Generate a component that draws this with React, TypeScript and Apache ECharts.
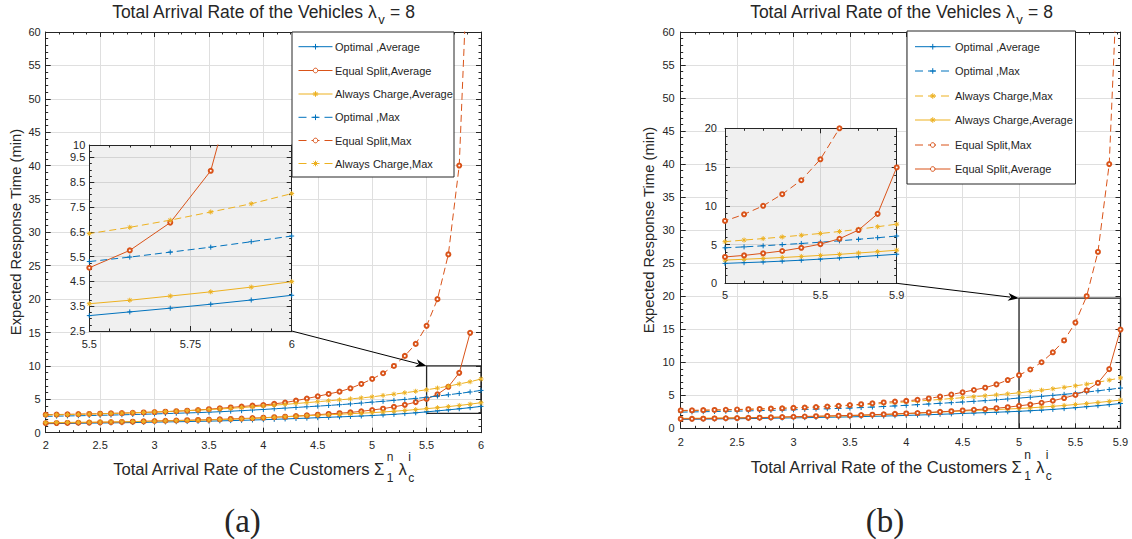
import React, { useEffect, useRef } from 'react';
import * as echarts from 'echarts';

// ---------------- data ----------------
const xValues = [2.0, 2.1, 2.2, 2.3, 2.4, 2.5, 2.6, 2.7, 2.8, 2.9, 3.0, 3.1, 3.2, 3.3, 3.4, 3.5, 3.6, 3.7, 3.8, 3.9, 4.0,
  4.1, 4.2, 4.3, 4.4, 4.5, 4.6, 4.7, 4.8, 4.9, 5.0, 5.1, 5.2, 5.3, 5.4, 5.5, 5.6, 5.7, 5.8, 5.9, 6.0];

const optimalAvg = [1.35, 1.37, 1.39, 1.41, 1.43, 1.45, 1.47, 1.49, 1.52, 1.55, 1.58, 1.61, 1.64, 1.67, 1.70, 1.73, 1.77, 1.81, 1.85, 1.90, 1.95,
  2.00, 2.06, 2.12, 2.18, 2.25, 2.31, 2.37, 2.43, 2.50, 2.57, 2.66, 2.75, 2.86, 2.98, 3.12, 3.27, 3.42, 3.58, 3.75, 3.94];
const alwaysAvg = [1.50, 1.52, 1.54, 1.56, 1.58, 1.60, 1.62, 1.64, 1.67, 1.70, 1.73, 1.76, 1.79, 1.83, 1.87, 1.91, 1.96, 2.01, 2.07, 2.13, 2.22,
  2.30, 2.38, 2.46, 2.54, 2.62, 2.69, 2.76, 2.84, 2.92, 3.00, 3.10, 3.21, 3.33, 3.46, 3.60, 3.74, 3.91, 4.08, 4.27, 4.49];
const equalAvg = [1.42, 1.44, 1.46, 1.49, 1.52, 1.55, 1.58, 1.61, 1.65, 1.70, 1.75, 1.79, 1.83, 1.87, 1.91, 1.95, 2.00, 2.06, 2.12, 2.18, 2.25,
  2.32, 2.40, 2.49, 2.59, 2.70, 2.81, 2.92, 3.04, 3.20, 3.40, 3.60, 3.87, 4.17, 4.58, 5.05, 5.75, 6.87, 8.96, 14.95, null];
const optimalMax = [2.45, 2.48, 2.51, 2.54, 2.57, 2.60, 2.64, 2.68, 2.72, 2.76, 2.81, 2.86, 2.91, 2.96, 3.01, 3.07, 3.14, 3.22, 3.30, 3.39, 3.48,
  3.58, 3.68, 3.78, 3.88, 3.98, 4.08, 4.19, 4.31, 4.44, 4.58, 4.70, 4.84, 4.99, 5.14, 5.30, 5.48, 5.68, 5.88, 6.10, 6.33];
const alwaysMax = [2.65, 2.68, 2.71, 2.75, 2.79, 2.83, 2.88, 2.93, 2.98, 3.04, 3.10, 3.16, 3.23, 3.30, 3.38, 3.46, 3.55, 3.65, 3.76, 3.88, 4.00,
  4.12, 4.24, 4.37, 4.50, 4.64, 4.78, 4.92, 5.06, 5.21, 5.37, 5.58, 5.77, 5.98, 6.20, 6.43, 6.68, 6.97, 7.30, 7.63, 8.04];
const equalMax = [2.70, 2.72, 2.75, 2.78, 2.81, 2.85, 2.89, 2.93, 2.98, 3.03, 3.09, 3.15, 3.22, 3.30, 3.40, 3.52, 3.65, 3.78, 3.92, 4.05, 4.15,
  4.32, 4.52, 4.80, 5.12, 5.45, 5.80, 6.15, 6.65, 7.30, 8.05, 8.90, 10.0, 11.5, 13.3, 16.0, 20.0, 26.7, 40.0, 80.0, null];

const pointsB = 40; // panel (b) stops at 5.9

const zoomBoxA = [[5.5, 2.9], [6, 10]];
const zoomBoxB = [[5, 0], [5.9, 19.7]];

const legendOrderA = ['OA', 'EA', 'AA', 'OM', 'EM', 'AM'];
const legendOrderB = ['OA', 'OM', 'AM', 'AA', 'EM', 'EA'];

// ---------------- styles ----------------
const BLUE = '#0072BD';
const ORANGE = '#D95319';
const YELLOW = '#EDB120';
const INK = '#262626';
const FONT = 'Liberation Sans';
const PLUS = 'path://M5,0L5,10M0,5L10,5';
const STAR = 'path://M5,0L5,10M0,5L10,5M1.5,1.5L8.5,8.5M1.5,8.5L8.5,1.5';

type Def = { name: string; values: (number | null)[]; color: string; dashed: boolean; kind: 'plus' | 'circle' | 'star' };
const defs: Record<string, Def> = {
  OA: { name: 'Optimal ,Average', values: optimalAvg, color: BLUE, dashed: false, kind: 'plus' },
  EA: { name: 'Equal Split,Average', values: equalAvg, color: ORANGE, dashed: false, kind: 'circle' },
  AA: { name: 'Always Charge,Average', values: alwaysAvg, color: YELLOW, dashed: false, kind: 'star' },
  OM: { name: 'Optimal ,Max', values: optimalMax, color: BLUE, dashed: true, kind: 'plus' },
  EM: { name: 'Equal Split,Max', values: equalMax, color: ORANGE, dashed: true, kind: 'circle' },
  AM: { name: 'Always Charge,Max', values: alwaysMax, color: YELLOW, dashed: true, kind: 'star' },
};

const grids = [
  { left: 45.7, top: 32, width: 435.3, height: 400.7, show: true, backgroundColor: '#ffffff', borderWidth: 0, z: 0 },
  { left: 89.3, top: 145, width: 202.4, height: 186, show: true, backgroundColor: '#f0f0f0', borderWidth: 0, z: 3 },
  { left: 680.7, top: 32, width: 439.8, height: 396.3, show: true, backgroundColor: '#ffffff', borderWidth: 0, z: 0 },
  { left: 725, top: 128.3, width: 171.7, height: 155, show: true, backgroundColor: '#f0f0f0', borderWidth: 0, z: 3 },
];

function axis(gridIndex: number, min: number, max: number, interval: number, o: any) {
  return {
    type: 'value',
    gridIndex,
    min, max, interval,
    position: o.position,
    z: o.z ?? 1,
    axisLine: { show: true, onZero: false, lineStyle: { color: INK, width: 1 } },
    axisTick: { show: true, inside: true, length: 5, lineStyle: { color: INK, width: 1 } },
    minorTick: { show: true, splitNumber: o.minor, length: 2.5, lineStyle: { color: INK, width: 1 } },
    axisLabel: { show: o.labels, color: INK, fontSize: 11, fontFamily: FONT, margin: o.margin ?? 6 },
    splitLine: { show: !!o.split, lineStyle: { color: o.gridColor ?? '#dfdfdf', width: 1 } },
    minorSplitLine: { show: false },
  };
}

function series(key: string, xi: number, n: number, z: number, extra: any = {}) {
  const d = defs[key];
  const data = xValues.slice(0, n).map((x, i) => [x, d.values[i]]);
  const symbol = d.kind === 'circle' ? 'emptyCircle' : d.kind === 'plus' ? PLUS : STAR;
  return {
    type: 'line',
    name: d.name,
    xAxisIndex: xi,
    yAxisIndex: xi,
    data,
    z,
    silent: true,
    clip: true,
    connectNulls: false,
    showAllSymbol: true,
    symbol,
    symbolSize: d.kind === 'circle' ? 4 : 5,
    lineStyle: { color: d.color, width: 1, type: d.dashed ? [7, 4] : 'solid' },
    itemStyle: { color: d.color, borderColor: d.color, borderWidth: 1 },
    emphasis: { disabled: true },
    ...extra,
  };
}

// text measuring for composing sub/superscripts
let ctx: CanvasRenderingContext2D | null = null;
function tw(s: string, size: number, family = FONT) {
  if (!ctx) ctx = document.createElement('canvas').getContext('2d');
  ctx!.font = `${size}px "${family}"`;
  return ctx!.measureText(s).width;
}
function txt(text: string, x: number, y: number, size: number, extra: any = {}) {
  const { family, align, ...rest } = extra;
  return {
    type: 'text', x, y, z: 30, silent: true, ...rest,
    style: {
      text, fontSize: size, fontFamily: family ?? FONT, fill: INK,
      textAlign: align ?? 'left', align: align ?? 'left',
      textVerticalAlign: 'middle', verticalAlign: 'middle',
    },
  };
}

const TITLE_SIZE = 17.5;
const XLAB_SIZE = 16.6;
const YLAB_SIZE = 14.8;

function titleEls(cx: number, cy: number) {
  const a = 'Total Arrival Rate of the Vehicles λ', b = 'v', c = ' = 8';
  const w1 = tw(a, TITLE_SIZE), w2 = tw(b, 13), w3 = tw(c, TITLE_SIZE);
  const x0 = cx - (w1 + w2 + w3) / 2;
  return [txt(a, x0, cy, TITLE_SIZE), txt(b, x0 + w1 + 0.5, cy + 7.5, 13), txt(c, x0 + w1 + w2 + 1, cy, TITLE_SIZE)];
}
function xLabelEls(cx: number, cy: number) {
  const a = 'Total Arrival Rate of the Customers Σ', b = ' λ';
  const w1 = tw(a, XLAB_SIZE), ws = Math.max(tw('n', 12), tw('1', 12)), w2 = tw(b, XLAB_SIZE), ws2 = Math.max(tw('i', 12), tw('c', 12));
  const total = w1 + ws + 2 + w2 + ws2 + 2;
  const x0 = cx - total / 2;
  const xs = x0 + w1 + 1.5;
  const x2 = xs + ws + 0.5;
  const xs2 = x2 + w2 + 1.5;
  return [
    txt(a, x0, cy, XLAB_SIZE),
    txt('n', xs, cy - 12, 12), txt('1', xs, cy + 9, 12),
    txt(b, x2, cy, XLAB_SIZE),
    txt('i', xs2, cy - 12, 12), txt('c', xs2, cy + 9, 12),
  ];
}
function yLabelEl(x: number, y: number) {
  return txt('Expected Response Time (min)', x, y, YLAB_SIZE, { rotation: Math.PI / 2, align: 'center' });
}

function markerEls(kind: string, cx: number, cy: number, color: string) {
  if (kind === 'circle') {
    return [{ type: 'circle', z: 31, silent: true, shape: { cx, cy, r: 2.3 }, style: { fill: '#fff', stroke: color, lineWidth: 1 } }];
  }
  const s = 2.8, t = 2;
  const segs = kind === 'plus'
    ? [[0, -s, 0, s], [-s, 0, s, 0]]
    : [[0, -s, 0, s], [-s, 0, s, 0], [-t, -t, t, t], [-t, t, t, -t]];
  return segs.map(([a, b, c, d]) => ({
    type: 'line', z: 31, silent: true,
    shape: { x1: cx + a, y1: cy + b, x2: cx + c, y2: cy + d },
    style: { stroke: color, lineWidth: 1 },
  }));
}

function legendEls(box: { x: number; y: number; w: number; h: number }, rows: number[], lx0: number, lx1: number, tx: number, order: string[]) {
  const els: any[] = [{
    type: 'rect', z: 29, silent: true,
    shape: { x: box.x, y: box.y, width: box.w, height: box.h },
    style: { fill: '#ffffff', stroke: INK, lineWidth: 1 },
  }];
  order.forEach((k, i) => {
    const d = defs[k];
    const cy = rows[i];
    els.push({
      type: 'line', z: 30, silent: true,
      shape: { x1: lx0, y1: cy, x2: lx1, y2: cy },
      style: { stroke: d.color, lineWidth: 1, lineDash: d.dashed ? [8, 5] : null },
    });
    els.push(...markerEls(d.kind, (lx0 + lx1) / 2, cy, d.color));
    els.push(txt(d.name, tx, cy, 11));
  });
  return els;
}

function arrowEls(p0: number[], p1: number[]) {
  const dx = p1[0] - p0[0], dy = p1[1] - p0[1];
  const len = Math.hypot(dx, dy);
  const ux = dx / len, uy = dy / len;
  const hl = 11, hw = 4;
  const bx = p1[0] - ux * hl, by = p1[1] - uy * hl;
  return [
    { type: 'line', z: 25, silent: true, shape: { x1: p0[0], y1: p0[1], x2: bx + ux * 2, y2: by + uy * 2 }, style: { stroke: '#000', lineWidth: 1 } },
    {
      type: 'polygon', z: 25, silent: true,
      shape: { points: [[p1[0], p1[1]], [bx - uy * hw, by + ux * hw], [bx + ux * 3, by + uy * 3], [bx + uy * hw, by - ux * hw]] },
      style: { fill: '#000' },
    },
  ];
}

export default function App() {
  const ref = useRef<HTMLDivElement>(null);
  useEffect(() => {
    if (!ref.current) return;
    const chart = echarts.init(ref.current, undefined, { renderer: 'svg' });
    const xAxes = [
      axis(0, 2, 6, 0.5, { labels: true, position: 'bottom', minor: 4, split: true, margin: 7 }),
      axis(0, 2, 6, 0.5, { labels: false, position: 'top', minor: 4 }),
      axis(1, 5.5, 6, 0.25, { labels: true, position: 'bottom', minor: 5, split: true, margin: 7, z: 4, gridColor: '#d4d4d4' }),
      axis(1, 5.5, 6, 0.25, { labels: false, position: 'top', minor: 5, z: 4 }),
      axis(2, 2, 5.9, 0.5, { labels: true, position: 'bottom', minor: 4, split: true, margin: 8 }),
      axis(2, 2, 5.9, 0.5, { labels: false, position: 'top', minor: 4 }),
      axis(3, 5, 5.9, 0.5, { labels: true, position: 'bottom', minor: 5, split: true, margin: 6, z: 4, gridColor: '#d4d4d4' }),
      axis(3, 5, 5.9, 0.5, { labels: false, position: 'top', minor: 5, z: 4 }),
    ];
    const yAxes = [
      axis(0, 0, 60, 5, { labels: true, position: 'left', minor: 5, split: true, margin: 5 }),
      axis(0, 0, 60, 5, { labels: false, position: 'right', minor: 5 }),
      axis(1, 2.5, 10, 1, { labels: true, position: 'left', minor: 4, split: true, margin: 4, z: 4, gridColor: '#d4d4d4' }),
      axis(1, 2.5, 10, 1, { labels: false, position: 'right', minor: 4, z: 4 }),
      axis(2, 0, 60, 5, { labels: true, position: 'left', minor: 5, split: true, margin: 6 }),
      axis(2, 0, 60, 5, { labels: false, position: 'right', minor: 5 }),
      axis(3, 0, 20, 5, { labels: true, position: 'left', minor: 5, split: true, margin: 8, z: 4, gridColor: '#d4d4d4' }),
      axis(3, 0, 20, 5, { labels: false, position: 'right', minor: 5, z: 4 }),
    ];
    const boxStyle = { silent: true, itemStyle: { color: 'rgba(0,0,0,0)', borderColor: INK, borderWidth: 1.3 }, label: { show: false } };
    const allSeries: any[] = [];
    legendOrderA.forEach((k, i) => {
      allSeries.push(series(k, 0, xValues.length, 2, i === 0 ? {
        markArea: { ...boxStyle, data: [[{ coord: zoomBoxA[0] }, { coord: zoomBoxA[1] }]] },
      } : {}));
    });
    legendOrderA.forEach((k) => allSeries.push(series(k, 2, xValues.length, 6)));
    legendOrderB.forEach((k, i) => {
      allSeries.push(series(k, 4, pointsB, 2, i === 0 ? {
        markArea: { ...boxStyle, data: [[{ coord: zoomBoxB[0] }, { coord: zoomBoxB[1] }]] },
      } : {}));
    });
    legendOrderB.forEach((k) => allSeries.push(series(k, 6, pointsB, 6)));
    chart.setOption({
      animation: false,
      backgroundColor: '#ffffff',
      grid: grids,
      xAxis: xAxes,
      yAxis: yAxes,
      series: allSeries,
    });

    const insetA = chart.convertToPixel({ xAxisIndex: 2, yAxisIndex: 2 }, [6, 2.5]) as number[];
    const boxA = chart.convertToPixel({ xAxisIndex: 0, yAxisIndex: 0 }, [zoomBoxA[0][0], zoomBoxA[1][1]]) as number[];
    const insetB = chart.convertToPixel({ xAxisIndex: 6, yAxisIndex: 6 }, [5.9, 0]) as number[];
    const boxB = chart.convertToPixel({ xAxisIndex: 4, yAxisIndex: 4 }, [zoomBoxB[0][0], zoomBoxB[1][1]]) as number[];

    const elements: any[] = [
      ...titleEls(263, 12),
      ...titleEls(901, 12),
      ...xLabelEls(264, 469),
      ...xLabelEls(901.5, 467),
      yLabelEl(16, 232),
      yLabelEl(649, 230),
      txt('(a)', 242.5, 521, 33, { family: 'Liberation Serif', align: 'center' }),
      txt('(b)', 885, 521, 33, { family: 'Liberation Serif', align: 'center' }),
      ...legendEls({ x: 292, y: 32, w: 162, h: 145 }, [46.7, 70.5, 94, 117.3, 140.5, 163.5], 298.5, 332.5, 335, legendOrderA),
      ...legendEls({ x: 907, y: 31, w: 168.5, h: 153 }, [46.7, 71, 96, 120, 145, 169], 915, 950.5, 955, legendOrderB),
      ...arrowEls(insetA, boxA),
      ...arrowEls(insetB, boxB),
    ];
    chart.setOption({ graphic: { elements } });
    return () => chart.dispose();
  }, []);
  return <div ref={ref} style={{ position: 'fixed', left: 0, top: 0, width: 1132, height: 539, background: '#fff' }} />;
}
